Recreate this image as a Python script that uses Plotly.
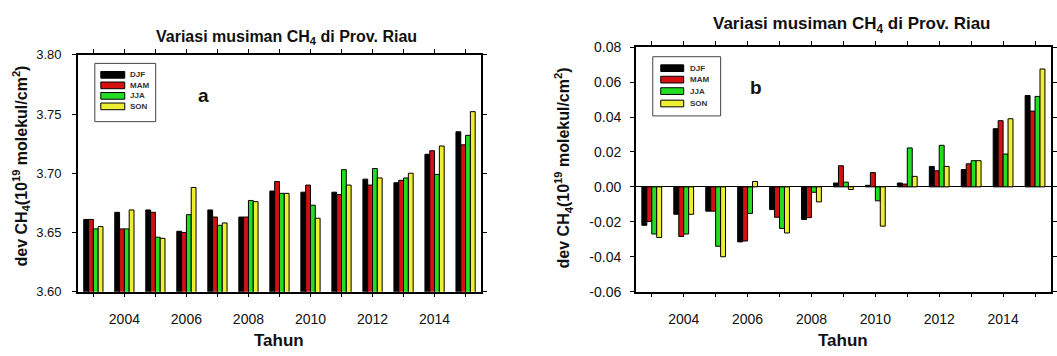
import plotly.graph_objects as go

W, H = 1057, 356

years = list(range(2003, 2016))
seasons = ["DJF", "MAM", "JJA", "SON"]
season_colors = ["#000000", "#d41010", "#22dd22", "#eeee33"]

# Panel a: seasonal mean CH4 column (10^19 molecules/cm^2)
djf_a = [3.661, 3.667, 3.669, 3.651, 3.669, 3.663, 3.685, 3.684, 3.684, 3.695, 3.692, 3.716, 3.735]
mam_a = [3.661, 3.653, 3.667, 3.650, 3.663, 3.663, 3.693, 3.690, 3.682, 3.690, 3.694, 3.719, 3.724]
jja_a = [3.653, 3.653, 3.646, 3.665, 3.656, 3.677, 3.683, 3.673, 3.703, 3.704, 3.696, 3.699, 3.732]
son_a = [3.655, 3.669, 3.645, 3.688, 3.658, 3.676, 3.683, 3.662, 3.690, 3.696, 3.700, 3.723, 3.752]

# Panel b: seasonal deviation
djf_b = [-0.022, -0.0157, -0.0139, -0.0315, -0.013, -0.0187, 0.0022, 0.0009, 0.0022, 0.0117, 0.0099, 0.0333, 0.0523]
mam_b = [-0.0198, -0.0284, -0.0139, -0.031, -0.0174, -0.0176, 0.0121, 0.0082, 0.0016, 0.0092, 0.0132, 0.0379, 0.0434]
jja_b = [-0.027, -0.027, -0.034, -0.0152, -0.0238, -0.0031, 0.0027, -0.008, 0.0223, 0.0238, 0.015, 0.0188, 0.0518]
son_b = [-0.029, -0.0157, -0.040, 0.0031, -0.0264, -0.0086, -0.0015, -0.0225, 0.006, 0.0117, 0.015, 0.039, 0.0675]

ticks_a = [3.60, 3.65, 3.70, 3.75, 3.80]
ticks_b = [-0.06, -0.04, -0.02, 0.00, 0.02, 0.04, 0.06, 0.08]

FONT = "Liberation Sans, Arial, sans-serif"


def px_x(p):
    return p / W


def px_y(p):
    return 1 - p / H


fig = go.Figure()

for name, color, vals in zip(seasons, season_colors, [djf_a, mam_a, jja_a, son_a]):
    fig.add_trace(go.Bar(x=years, y=vals, name=name, marker=dict(color=color, line=dict(color="#000", width=1)),
                         xaxis="x", yaxis="y", showlegend=False))
for name, color, vals in zip(seasons, season_colors, [djf_b, mam_b, jja_b, son_b]):
    fig.add_trace(go.Bar(x=years, y=vals, name=name, marker=dict(color=color, line=dict(color="#000", width=1)),
                         xaxis="x2", yaxis="y2", showlegend=False))

axis_common = dict(showline=True, linecolor="#000", linewidth=1.5, mirror="ticks", ticks="outside",
                   ticklen=4, tickcolor="#000", tickwidth=1, showgrid=False, zeroline=False,
                   tickfont=dict(family=FONT, size=14, color="#111"))

# Year axis: labels every two years, a tick at every year
year_axis = dict(range=[2002.5, 2015.5], tickmode="linear", tick0=2004, dtick=2, ticklabelstandoff=10,
                 minor=dict(tickmode="linear", tick0=2003, dtick=1, ticks="outside", ticklen=4,
                            tickcolor="#000", tickwidth=1, showgrid=False),
                 **axis_common)

fig.update_layout(
    width=W, height=H, margin=dict(l=0, r=0, t=0, b=0),
    paper_bgcolor="white", plot_bgcolor="white",
    barmode="group", bargap=0.38, bargroupgap=0,
    showlegend=False,
    xaxis=dict(domain=[px_x(78), px_x(482)], anchor="y", **year_axis),
    yaxis=dict(domain=[px_y(297), px_y(49)], anchor="x", range=[3.60, 3.80],
               tickmode="array", tickvals=ticks_a, ticktext=[f"{v:.2f}" for v in ticks_a],
               ticklabelstandoff=8, **{**axis_common, "tickfont": dict(family=FONT, size=13, color="#111")}),
    xaxis2=dict(domain=[px_x(637), px_x(1053)], anchor="y2", **year_axis),
    yaxis2=dict(domain=[px_y(297), px_y(41)], anchor="x2", range=[-0.06, 0.08],
                tickmode="array", tickvals=ticks_b, ticktext=[f"{v:.2f}" for v in ticks_b],
                ticklabelstandoff=6, **{**axis_common, "zeroline": True, "zerolinecolor": "#000",
                                        "zerolinewidth": 1}),
)

title_txt = "Variasi musiman CH<sub>4</sub> di Prov. Riau"
ytitle_txt = "dev CH<sub>4</sub>(10<sup>19</sup> molekul/cm<sup>2</sup>)"

annotations = [
    dict(text=title_txt, x=px_x(287), y=px_y(31), font=dict(size=16)),
    dict(text=title_txt, x=px_x(853), y=px_y(18), font=dict(size=17)),
    dict(text=ytitle_txt, x=px_x(21), y=px_y(165), textangle=-90, font=dict(size=16)),
    dict(text=ytitle_txt, x=px_x(565), y=px_y(167), textangle=-90, font=dict(size=16)),
    dict(text="Tahun", x=px_x(280), y=px_y(348), font=dict(size=17)),
    dict(text="Tahun", x=px_x(845), y=px_y(348), font=dict(size=17)),
    dict(text="a", x=px_x(204), y=px_y(92), font=dict(size=19)),
    dict(text="b", x=px_x(757), y=px_y(83), font=dict(size=19)),
]
for a in annotations:
    a.update(xref="paper", yref="paper", showarrow=False, xanchor="center", yanchor="middle")
    a["text"] = f"<b>{a['text']}</b>"
    a["font"] = dict(family=FONT, color="#111", **a["font"])

# Hand-drawn legend boxes with wide rectangular swatches
shapes = []
legend_specs = [
    # box (x0, y0, x1, y1), swatch x0, x1, row centres, text x
    ((95, 58, 156, 119), 101, 125, [70, 81, 92, 103], 128),
    ((654, 51, 722, 113), 662, 685, [63, 75, 87, 100], 689),
]
for (bx0, by0, bx1, by1), sx0, sx1, rows, tx in legend_specs:
    shapes.append(dict(type="rect", xref="paper", yref="paper", x0=px_x(bx0), x1=px_x(bx1),
                       y0=px_y(by1), y1=px_y(by0), line=dict(color="#444", width=1), fillcolor="white"))
    for name, color, ry in zip(seasons, season_colors, rows):
        shapes.append(dict(type="rect", xref="paper", yref="paper", x0=px_x(sx0), x1=px_x(sx1),
                           y0=px_y(ry + 3.5), y1=px_y(ry - 3.5), line=dict(color="#000", width=1),
                           fillcolor=color))
        annotations.append(dict(text=f"<b>{name}</b>", xref="paper", yref="paper", x=px_x(tx), y=px_y(ry),
                                xanchor="left", yanchor="middle", showarrow=False,
                                font=dict(family=FONT, size=8, color="#333")))

fig.update_layout(annotations=annotations, shapes=shapes)
fig.write_html("out.html")
